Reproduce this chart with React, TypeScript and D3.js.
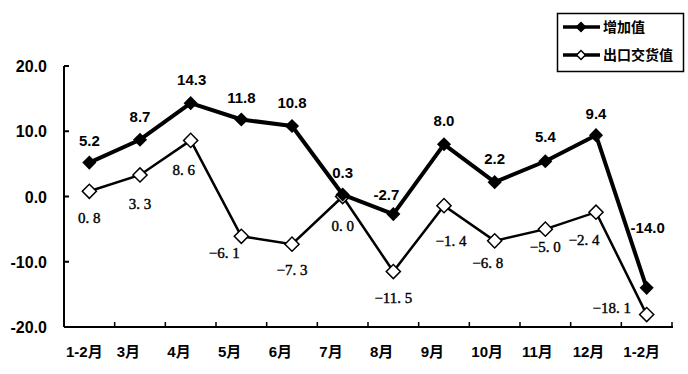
import * as d3 from "d3";

const months = ["1-2月", "3月", "4月", "5月", "6月", "7月", "8月", "9月", "10月", "11月", "12月", "1-2月"];
const addedValue = [5.2, 8.7, 14.3, 11.8, 10.8, 0.3, -2.7, 8.0, 2.2, 5.4, 9.4, -14.0];
const exportValue = [0.8, 3.3, 8.6, -6.1, -7.3, 0.0, -11.5, -1.4, -6.8, -5.0, -2.4, -18.1];
const yTicks = [20, 10, 0, -10, -20];
const seriesNames = ["增加值", "出口交货值"];

// label nudges (dx, dy from the point to the text baseline)
const addedOffsets = [
  [0, -17], [0, -18], [1, -18], [0, -17], [0, -18], [0, -17],
  [-7, -14], [0, -18], [0, -18], [0, -19], [0, -16], [1, -55],
];
const exportOffsets = [
  [0, 32], [0, 34], [-7, 35], [-17, 22], [0, 31], [0, 34],
  [0, 31], [7, 40], [-7, 27], [0, 23], [-12, 33], [-35, -2],
];

const W = 688;
const H = 374;
const left = 64;
const right = 672;
const top = 66;
const bottom = 327;

const sans = "'Liberation Sans', Arial, 'Noto Sans CJK SC', sans-serif";
const serif = "'Liberation Serif', 'Times New Roman', 'DejaVu Serif', serif";

const fmtExport = (v: number) => v.toFixed(1).replace("-", "\u2212").replace(".", ". ");

export default function App() {
  const x = d3.scaleBand<number>().domain(d3.range(months.length)).range([left, right]);
  const y = d3.scaleLinear().domain([-20, 20]).range([bottom, top]);
  const cx = (i: number) => x(i)! + x.bandwidth() / 2;

  const line = d3
    .line<number>()
    .x((_, i) => cx(i))
    .y((d) => y(d));

  const diamond = d3.symbol().type(d3.symbolSquare).size(100)()!;
  const smallDiamond = d3.symbol().type(d3.symbolSquare).size(40)()!;

  return (
    <svg
      width={W}
      height={H}
      style={{ position: "absolute", left: 0, top: 0, background: "#fff" }}
    >
      {/* y axis */}
      <line x1={left} x2={left} y1={top} y2={bottom} stroke="#000" strokeWidth={2} />
      {yTicks.map((t) => (
        <g key={t}>
          <line x1={left} x2={left + 5} y1={y(t)} y2={y(t)} stroke="#000" strokeWidth={2} />
          <text
            x={47}
            y={y(t) + 6}
            textAnchor="end"
            fontFamily={sans}
            fontWeight="bold"
            fontSize={16}
          >
            {t.toFixed(1)}
          </text>
        </g>
      ))}

      {/* x axis */}
      <line x1={left} x2={right + 1} y1={bottom} y2={bottom} stroke="#000" strokeWidth={2} />
      {d3.range(months.length + 1).map((i) => {
        const xx = i < months.length ? x(i)! : right;
        return <line key={i} x1={xx} x2={xx} y1={bottom} y2={bottom - 5} stroke="#000" strokeWidth={1.5} />;
      })}
      {months.map((m, i) => (
        <text
          key={i}
          x={x(i)! + 2}
          y={357}
          fontFamily={sans}
          fontWeight="bold"
          fontSize={15}
        >
          {m}
        </text>
      ))}

      {/* export series */}
      <path d={line(exportValue)!} fill="none" stroke="#000" strokeWidth={2.5} />
      {exportValue.map((v, i) => (
        <path
          key={i}
          d={diamond}
          transform={`translate(${cx(i)},${y(v)}) rotate(45)`}
          fill="#fff"
          stroke="#000"
          strokeWidth={1.5}
        />
      ))}

      {/* added value series */}
      <path d={line(addedValue)!} fill="none" stroke="#000" strokeWidth={4} strokeLinejoin="round" />
      {addedValue.map((v, i) => (
        <path
          key={i}
          d={diamond}
          transform={`translate(${cx(i)},${y(v)}) rotate(45)`}
          fill="#000"
        />
      ))}

      {addedValue.map((v, i) => (
        <text
          key={i}
          x={cx(i) + addedOffsets[i][0]}
          y={y(v) + addedOffsets[i][1]}
          textAnchor="middle"
          fontFamily={sans}
          fontWeight="bold"
          fontSize={15}
        >
          {v.toFixed(1)}
        </text>
      ))}
      {exportValue.map((v, i) => (
        <text
          key={i}
          x={cx(i) + exportOffsets[i][0]}
          y={y(v) + exportOffsets[i][1]}
          textAnchor="middle"
          fontFamily={serif}
          fontSize={15}
          stroke="#000"
          strokeWidth={0.4}
        >
          {fmtExport(v)}
        </text>
      ))}

      {/* legend */}
      <rect x={557.5} y={13.5} width={126} height={58} fill="#fff" stroke="#000" strokeWidth={1.5} />
      {seriesNames.map((name, i) => {
        const ly = 27 + i * 28;
        return (
          <g key={name}>
            <line x1={563} x2={600} y1={ly} y2={ly} stroke="#000" strokeWidth={3.5} />
            <path
              d={smallDiamond}
              transform={`translate(581,${ly}) rotate(45)`}
              fill={i === 0 ? "#000" : "#fff"}
              stroke="#000"
              strokeWidth={1.5}
            />
            <text
              x={603}
              y={ly + 5}
              fontFamily={sans}
              fontWeight="bold"
              fontSize={14}
            >
              {name}
            </text>
          </g>
        );
      })}
    </svg>
  );
}
